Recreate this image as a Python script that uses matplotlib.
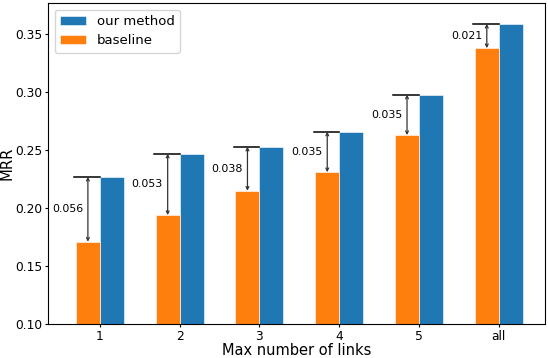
import numpy as np
import matplotlib.pyplot as plt

labels = ["1", "2", "3", "4", "5", "all"]
baseline = [0.171, 0.194, 0.215, 0.231, 0.263, 0.338]
ours = [0.227, 0.247, 0.253, 0.266, 0.298, 0.359]

x = np.arange(1, len(labels) + 1)
width = 0.3

fig = plt.figure(figsize=(5.48, 3.58), dpi=100)
ax = fig.add_axes([0.0876, 0.0950, 0.907, 0.8966])

ax.bar(x + width / 2, ours, width, color="#1f77b4", edgecolor="white",
       linewidth=0.4, label="our method")
ax.bar(x - width / 2, baseline, width, color="#ff7f0e", edgecolor="white",
       linewidth=0.4, label="baseline")

for xi, b, o in zip(x, baseline, ours):
    # gap marker: line at our level, arrow down to the baseline bar
    ax.plot([xi - width - 0.02, xi], [o, o], color="black", linewidth=1.1)
    ax.annotate("", xy=(xi - width / 2, b), xytext=(xi - width / 2, o),
                arrowprops=dict(arrowstyle="<->", color="#333333", lw=0.9,
                                shrinkA=0, shrinkB=0, mutation_scale=5))
    ax.text(xi - width / 2 - 0.06, (b + o) / 2, f"{o - b:.3f}",
            ha="right", va="center", fontsize=7.9)

ax.set_xticks(x)
ax.set_xticklabels(labels)
ax.set_xlim(0.35, 6.58)
ax.set_ylim(0.10, 0.377)
ax.set_yticks([0.10, 0.15, 0.20, 0.25, 0.30, 0.35])
ax.tick_params(labelsize=8.8, length=2.5, pad=1.5)
ax.set_xlabel("Max number of links", fontsize=10.5, labelpad=0)
ax.set_ylabel("MRR", fontsize=10.6, labelpad=0.5)
ax.legend(loc="upper left", fontsize=9.5)

fig.savefig("out.png", dpi=100)
